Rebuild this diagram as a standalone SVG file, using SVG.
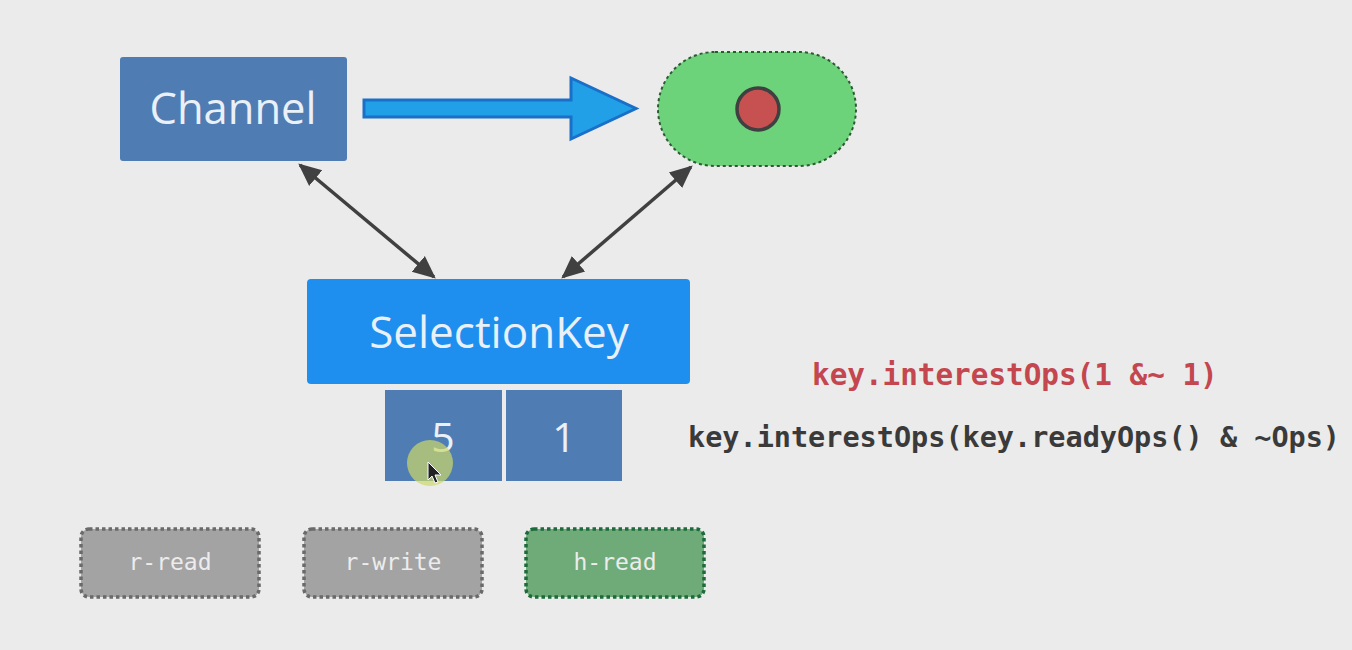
<svg xmlns="http://www.w3.org/2000/svg" width="1352" height="650" viewBox="0 0 1352 650">
  <style>
    .box { fill: #4f7db3; }
    .big { font-family: "Open Sans", "Noto Sans", sans-serif; fill: #eaf0f7; text-anchor: middle; }
    .tag { stroke-width: 3.5; stroke-dasharray: 3.5 3; }
    .tag-text { font-family: "DejaVu Sans Mono", monospace; font-size: 23px; fill: #ececec; text-anchor: middle; }
    .code { font-family: "DejaVu Sans Mono", monospace; font-weight: bold; }
    .link { stroke: #404040; stroke-width: 3.5; fill: none; marker-start: url(#ah); marker-end: url(#ah); }
  </style>
  <defs>
    <marker id="ah" viewBox="0 0 10 10" refX="9" refY="5" markerWidth="6.5" markerHeight="6.5" orient="auto-start-reverse" markerUnits="strokeWidth">
      <path d="M0,0.5 L10,5 L0,9.5 z" fill="#404040"/>
    </marker>
  </defs>
  <rect width="1352" height="650" fill="#ebebeb"/>

  <g id="connectors">
    <line class="link" x1="300" y1="165" x2="434" y2="277"/>
    <line class="link" x1="691" y1="167" x2="563" y2="277"/>
    <path id="big-arrow" d="M364,100 L571,100 L571,78 L636,108.5 L571,139 L571,117 L364,117 z" fill="#21a0e8" stroke="#1a70c8" stroke-width="3" stroke-linejoin="miter"/>
  </g>

  <g id="channel">
    <rect class="box" x="120" y="57" width="227" height="104" rx="3"/>
    <text class="big" x="233" y="124" font-size="43.5">Channel</text>
  </g>

  <g id="selector">
    <rect x="658" y="52" width="198" height="114" rx="57" fill="#6dd37a" stroke="#2d5a33" stroke-width="2" stroke-dasharray="3 3"/>
    <ellipse cx="758" cy="109" rx="21" ry="21" fill="#c75151" stroke="#404040" stroke-width="3.5"/>
  </g>

  <g id="selectionkey">
    <rect x="307" y="279" width="383" height="105" rx="4" fill="#1e8fef"/>
    <text class="big" x="499" y="348" font-size="44">SelectionKey</text>
  </g>

  <g id="interest-cell">
    <rect class="box" x="385" y="390" width="117" height="91"/>
    <text class="big" x="443" y="452" font-size="41">5</text>
  </g>
  <g id="ready-cell">
    <rect class="box" x="506" y="390" width="116" height="91"/>
    <text class="big" x="564" y="452" font-size="41">1</text>
  </g>

  <g id="cursor">
    <circle cx="430" cy="463" r="23" fill="#cdd86a" opacity="0.7"/>
    <path d="M428,462 L428,480 L432,476 L435,483 L438,482 L435,475 L441,475 z" fill="#222" stroke="#fff" stroke-width="1"/>
  </g>

  <g id="r-read">
    <rect class="tag" x="81" y="529" width="178" height="68" rx="8" fill="#a3a3a3" stroke="#6a6a6a"/>
    <text class="tag-text" x="170" y="570">r-read</text>
  </g>
  <g id="r-write">
    <rect class="tag" x="304" y="529" width="178" height="68" rx="8" fill="#a3a3a3" stroke="#6a6a6a"/>
    <text class="tag-text" x="393" y="570">r-write</text>
  </g>
  <g id="h-read">
    <rect class="tag" x="526" y="529" width="178" height="68" rx="8" fill="#6fab79" stroke="#1d6b3b"/>
    <text class="tag-text" x="615" y="570">h-read</text>
  </g>

  <g id="code">
    <text class="code" x="812" y="385" font-size="29.3" fill="#c4464e">key.interestOps(1 &amp;~ 1)</text>
    <text class="code" x="688" y="447" font-size="28.5" fill="#3a3a3a">key.interestOps(key.readyOps() &amp; ~Ops)</text>
  </g>
</svg>
